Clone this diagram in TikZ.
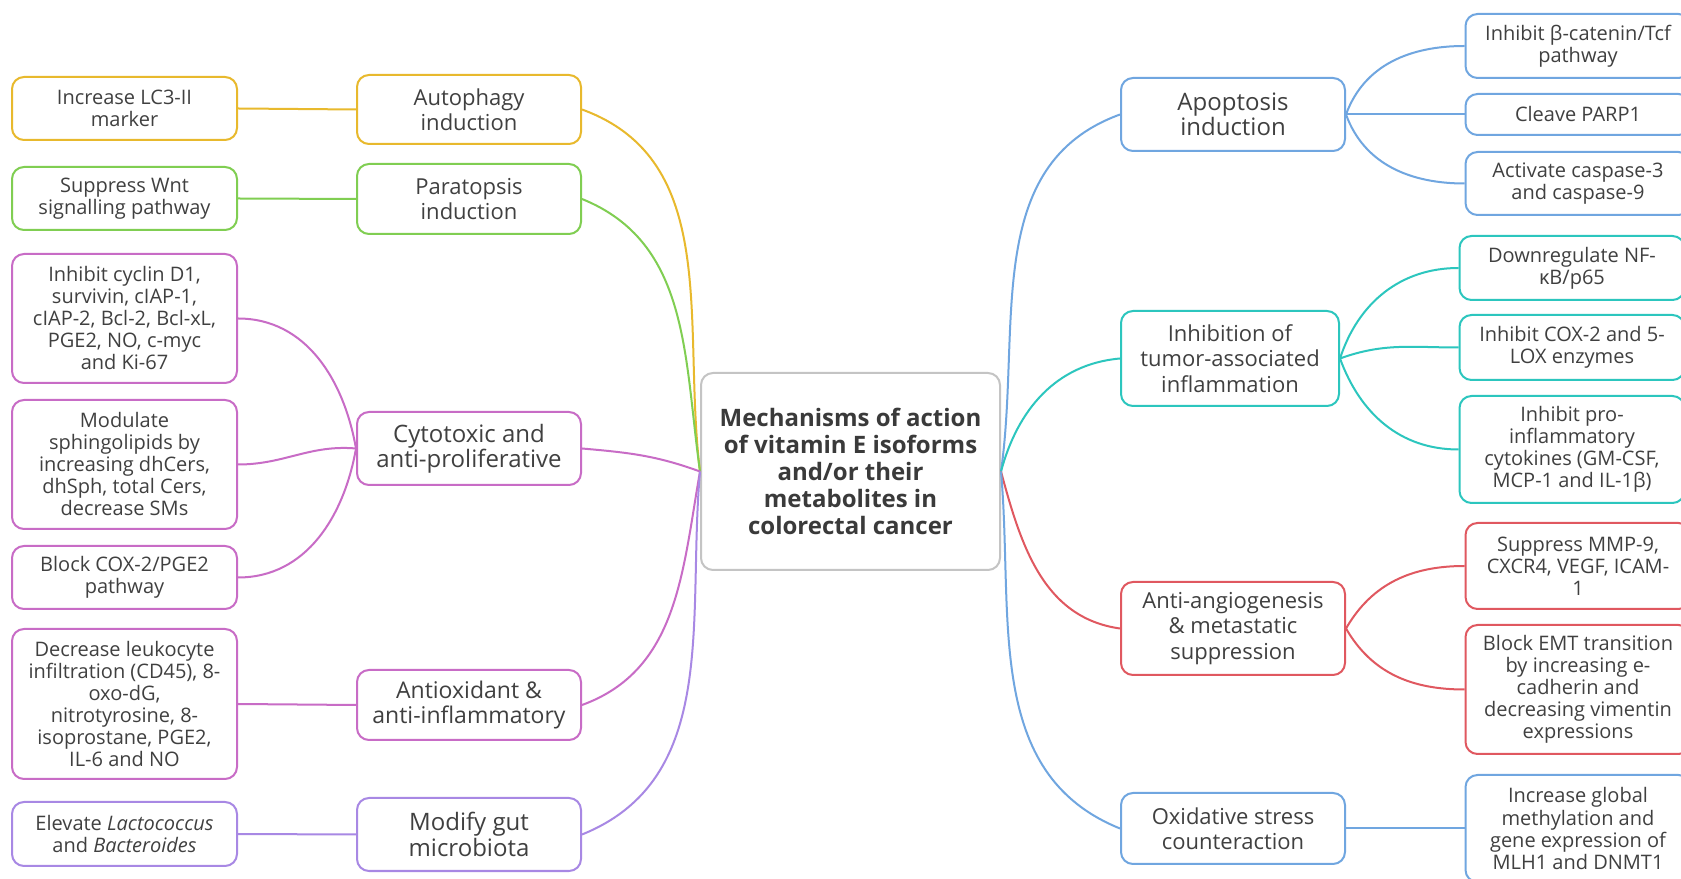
\documentclass[tikz,border=0pt]{standalone}
\usepackage{fontspec}
\setmainfont{Open Sans}
\definecolor{yel}{RGB}{232,185,45}
\definecolor{grn}{RGB}{128,206,82}
\definecolor{mag}{RGB}{200,108,198}
\definecolor{pur}{RGB}{168,136,228}
\definecolor{blu}{RGB}{112,166,224}
\definecolor{tea}{RGB}{44,198,190}
\definecolor{redc}{RGB}{224,88,96}
\definecolor{gry}{RGB}{196,196,196}
\definecolor{txt}{RGB}{64,64,64}
\tikzset{
  box/.style={draw=#1, rounded corners=6pt, line width=1pt, fill=white, align=center, text=txt, inner sep=1pt},
  leaf/.style={box=#1, font=\fontsize{10}{11}\selectfont, minimum width=112.5pt},
  mid/.style={box=#1, font=\fontsize{12}{12.7}\selectfont, minimum width=112pt},
  smallmid/.style={font=\fontsize{11}{12.6}\selectfont},
  link/.style={draw=#1, line width=1pt}
}
\begin{document}
\begin{tikzpicture}[x=0.5pt,y=0.5pt]
\clip (0,0) rectangle (1681,878);
\fill[white] (0,0) rectangle (1681,878);
% central
\node[box=gry, font=\fontsize{12}{13.4}\selectfont\bfseries, text=txt!90!black, minimum width=149.5pt, minimum height=98.5pt] (c) at (850.5,406.5)
  {Mechanisms of action\\of vitamin E isoforms\\and/or their\\metabolites in\\colorectal cancer};
% left middle
\node[mid=yel, smallmid, minimum height=34.5pt] (aut) at (469,768.5) {Autophagy\\induction};
\node[mid=grn, smallmid, minimum height=35pt] (par) at (469,679) {Paratopsis\\induction};
\node[mid=mag, minimum height=36.5pt] (cyt) at (469,429.5) {Cytotoxic and\\anti-proliferative};
\node[mid=mag, font=\fontsize{11.5}{12.7}\selectfont, minimum height=35pt] (ant) at (469,173) {Antioxidant \&\\anti-inflammatory};
\node[mid=pur, minimum height=36.5pt] (gut) at (469,43.5) {Modify gut\\microbiota};
% left leaves
\node[leaf=yel, minimum height=31.5pt] (lc3) at (124.5,769.5) {Increase LC3-II\\marker};
\node[leaf=grn, minimum height=31.5pt] (wnt) at (124.5,679.5) {Suppress Wnt\\signalling pathway};
\node[leaf=mag, minimum height=64.5pt] (cyc) at (124.5,559.5) {Inhibit cyclin D1,\\survivin, cIAP-1,\\cIAP-2, Bcl-2, Bcl-xL,\\PGE2, NO, c-myc\\and Ki-67};
\node[leaf=mag, minimum height=64.5pt] (sph) at (124.5,413.5) {Modulate\\sphingolipids by\\increasing dhCers,\\dhSph, total Cers,\\decrease SMs};
\node[leaf=mag, minimum height=31.5pt] (cox) at (124.5,300.5) {Block COX-2/PGE2\\pathway};
\node[leaf=mag, minimum height=75pt] (leu) at (124.5,174) {Decrease leukocyte\\infiltration (CD45), 8-\\oxo-dG,\\nitrotyrosine, 8-\\isoprostane, PGE2,\\IL-6 and NO};
\node[leaf=pur, minimum height=32pt] (lac) at (124.5,44) {Elevate \textit{Lactococcus}\\and \textit{Bacteroides}};
% right middle
\node[mid=blu, minimum height=36.5pt] (apo) at (1233,763.5) {Apoptosis\\induction};
\node[mid=tea, smallmid, minimum width=109pt, minimum height=47.5pt] (tum) at (1230,519.5) {Inhibition of\\tumor-associated\\inflammation};
\node[mid=redc, smallmid, minimum height=46.5pt] (ang) at (1233,249.5) {Anti-angiogenesis\\\& metastatic\\suppression};
\node[mid=blu, smallmid, minimum height=35.5pt] (oxi) at (1233,49.5) {Oxidative stress\\counteraction};
% right leaves
\node[leaf=blu, minimum height=32pt] (bcat) at (1578,832) {Inhibit β-catenin/Tcf\\pathway};
\node[leaf=blu, minimum height=20.5pt] (parp) at (1578,763.5) {Cleave PARP1};
\node[leaf=blu, minimum height=31.5pt] (casp) at (1578,694.5) {Activate caspase-3\\and caspase-9};
\node[leaf=tea, minimum height=32pt] (nfkb) at (1572,610) {Downregulate NF-\\κB/p65};
\node[leaf=tea, minimum height=32.5pt] (lox) at (1572,530.5) {Inhibit COX-2 and 5-\\LOX enzymes};
\node[leaf=tea, minimum height=53.5pt] (pro) at (1572,428.5) {Inhibit pro-\\inflammatory\\cytokines (GM-CSF,\\MCP-1 and IL-1β)};
\node[leaf=redc, minimum height=43pt] (mmp) at (1578,312) {Suppress MMP-9,\\CXCR4, VEGF, ICAM-\\1};
\node[leaf=redc, minimum height=64.5pt] (emt) at (1578,188.5) {Block EMT transition\\by increasing e-\\cadherin and\\decreasing vimentin\\expressions};
\node[leaf=blu, minimum height=53.5pt] (glob) at (1578,49.5) {Increase global\\methylation and\\gene expression of\\MLH1 and DNMT1};
% connectors center -> middle
\draw[link=yel] (c.west) to[out=97,in=-20] (aut.east);
\draw[link=grn] (c.west) to[out=98,in=-22] (par.east);
\draw[link=mag] (c.west) to[out=160,in=-5] (cyt.east);
\draw[link=mag] (c.west) to[out=-100,in=20] (ant.east);
\draw[link=pur] (c.west) to[out=-95,in=22] (gut.east);
\draw[link=blu] (c.east) to[out=82,in=-160] (apo.west);
\draw[link=tea] (c.east) to[out=75,in=-175] (tum.west);
\draw[link=redc] (c.east) to[out=-75,in=172] (ang.west);
\draw[link=blu] (c.east) to[out=-85,in=158] (oxi.west);
% middle -> leaves
\draw[link=yel] (aut.west) -- (lc3.east);
\draw[link=grn] (par.west) -- (wnt.east);
\draw[link=mag] (cyt.west) to[out=100,in=0] (cyc.east);
\draw[link=mag] (cyt.west) to[out=175,in=0] (sph.east);
\draw[link=mag] (cyt.west) to[out=-100,in=0] (cox.east);
\draw[link=mag] (ant.west) -- (leu.east);
\draw[link=pur] (gut.west) -- (lac.east);
\draw[link=blu] (apo.east) to[out=70,in=180] (bcat.west);
\draw[link=blu] (apo.east) -- (parp.west);
\draw[link=blu] (apo.east) to[out=-70,in=180] (casp.west);
\draw[link=tea] (tum.east) to[out=72,in=180] (nfkb.west);
\draw[link=tea] (tum.east) to[out=20,in=180] (lox.west);
\draw[link=tea] (tum.east) to[out=-70,in=180] (pro.west);
\draw[link=redc] (ang.east) to[out=60,in=180] (mmp.west);
\draw[link=redc] (ang.east) to[out=-60,in=180] (emt.west);
\draw[link=blu] (oxi.east) -- (glob.west);
\end{tikzpicture}
\end{document}
